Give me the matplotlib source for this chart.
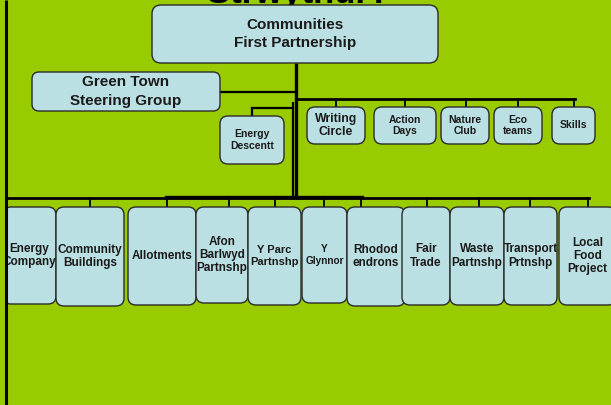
import matplotlib
matplotlib.use("Agg")
import matplotlib.pyplot as plt
from matplotlib.patches import FancyBboxPatch, Rectangle

# ---- data (labels) ----
title = "Strwythur?"
top_label = "Communities\nFirst Partnership"
steering_label = "Green Town\nSteering Group"
upper_labels = ["Energy\nDescentt", "Writing\nCircle", "Action\nDays", "Nature\nClub", "Eco\nteams", "Skills"]
lower_labels = ["Energy\nCompany", "Community\nBuildings", "Allotments", "Afon\nBarlwyd\nPartnshp",
                "Y Parc\nPartnshp", "Y\nGlynnor", "Rhodod\nendrons", "Fair\nTrade", "Waste\nPartnshp",
                "Transport\nPrtnshp", "Local\nFood\nProject"]

# ---- layout (pixel coordinates: x0, y0, x1, y1) ----
top_box = (152, 5, 438, 63)
steer_box = (32, 72, 220, 111)
upper_boxes = [(220, 116, 284, 164), (307, 107, 365, 144), (374, 107, 436, 144),
               (441, 107, 489, 144), (494, 107, 542, 144), (552, 107, 595, 144)]
upper_fs = [7.5, 8.8, 7.5, 7.5, 7.5, 7.5]
lower_boxes = [(3, 207, 56, 304), (56, 207, 124, 306), (128, 207, 196, 305), (196, 207, 248, 303),
               (248, 207, 301, 305), (302, 207, 347, 303), (347, 207, 405, 306), (402, 207, 450, 305),
               (450, 207, 504, 305), (504, 207, 557, 305), (559, 207, 616, 305)]
lower_fs = [8.5, 8.5, 8.5, 8.5, 8.0, 7.2, 8.5, 8.5, 8.5, 8.5, 8.5]
lower_drops = [None, 90, 167, 229, 275, 324, 361, 427, 479, 530, 588]
upper_drops = [None, 336, 405, 466, 518, 574]

W, H = 611, 405
GREEN = "#99CC00"
BOX = "#BBE0E3"
EDGE = "#2b2b2b"
TXT = "#1a1a1a"
FONT = "Liberation Sans"

fig = plt.figure(figsize=(W / 100, H / 100), dpi=100)
fig.patch.set_facecolor(GREEN)
ax = fig.add_axes([0, 0, 1, 1])
ax.set_xlim(0, W)
ax.set_ylim(H, 0)
ax.axis("off")
ax.set_facecolor(GREEN)

z = [3]


def box(b, label, fs, r=8, ls=1.15):
    x0, y0, x1, y1 = b
    p = FancyBboxPatch((x0, y0), x1 - x0, y1 - y0,
                       boxstyle=f"round,pad=0,rounding_size={r}",
                       fc=BOX, ec=EDGE, lw=1.0, zorder=z[0])
    ax.add_patch(p)
    t = ax.text((x0 + x1) / 2, (y0 + y1) / 2, label, ha="center", va="center",
                fontsize=fs, fontweight="bold", color=TXT, family=FONT,
                linespacing=ls, zorder=z[0] + 0.5)
    z[0] += 1
    return t


LW = 2.0
# title (mostly hidden above the top of the slide)
ax.text(299, 2.8, title, ha="center", va="baseline", fontsize=25, fontweight="bold",
        color="black", family=FONT, zorder=1)

# trunk and connectors
ax.plot([295.5, 295.5], [63, 198], color="black", lw=2.4, zorder=2, solid_capstyle="butt")
ax.plot([293, 293], [102, 198], color="black", lw=1.6, zorder=2, solid_capstyle="butt")
ax.plot([220, 295], [92, 92], color="black", lw=1.6, zorder=2)
ax.plot([252, 293], [108, 108], color="black", lw=1.6, zorder=2)
ax.plot([252, 252], [108, 116], color="black", lw=1.6, zorder=2)
ax.plot([296, 574.5], [98.5, 98.5], color="black", lw=LW, zorder=2)
for x in upper_drops:
    if x is not None:
        ax.plot([x, x], [98.5, 107], color="black", lw=1.3, zorder=2)

ax.plot([6, 588.5], [198, 198], color="black", lw=LW, zorder=2)
ax.plot([166, 362], [196.5, 196.5], color="black", lw=2.4, zorder=2)
for x in lower_drops:
    if x is not None:
        ax.plot([x, x], [198, 207], color="black", lw=1.3, zorder=2)

# boxes
box(top_box, top_label, 11, r=9, ls=1.38)
box(steer_box, steering_label, 11, r=7, ls=1.38)
for b, lab, fs in zip(upper_boxes, upper_labels, upper_fs):
    box(b, lab, fs, r=8)
for b, lab, fs in zip(lower_boxes, lower_labels, lower_fs):
    box(b, lab, fs, r=8)

# left border line
ax.add_patch(Rectangle((0, 0), 4.5, H, fc=GREEN, ec="none", zorder=100))
ax.plot([6, 6], [0, H], color="black", lw=2.2, zorder=101, solid_capstyle="butt")

fig.savefig("out.png", dpi=100, facecolor=GREEN)
